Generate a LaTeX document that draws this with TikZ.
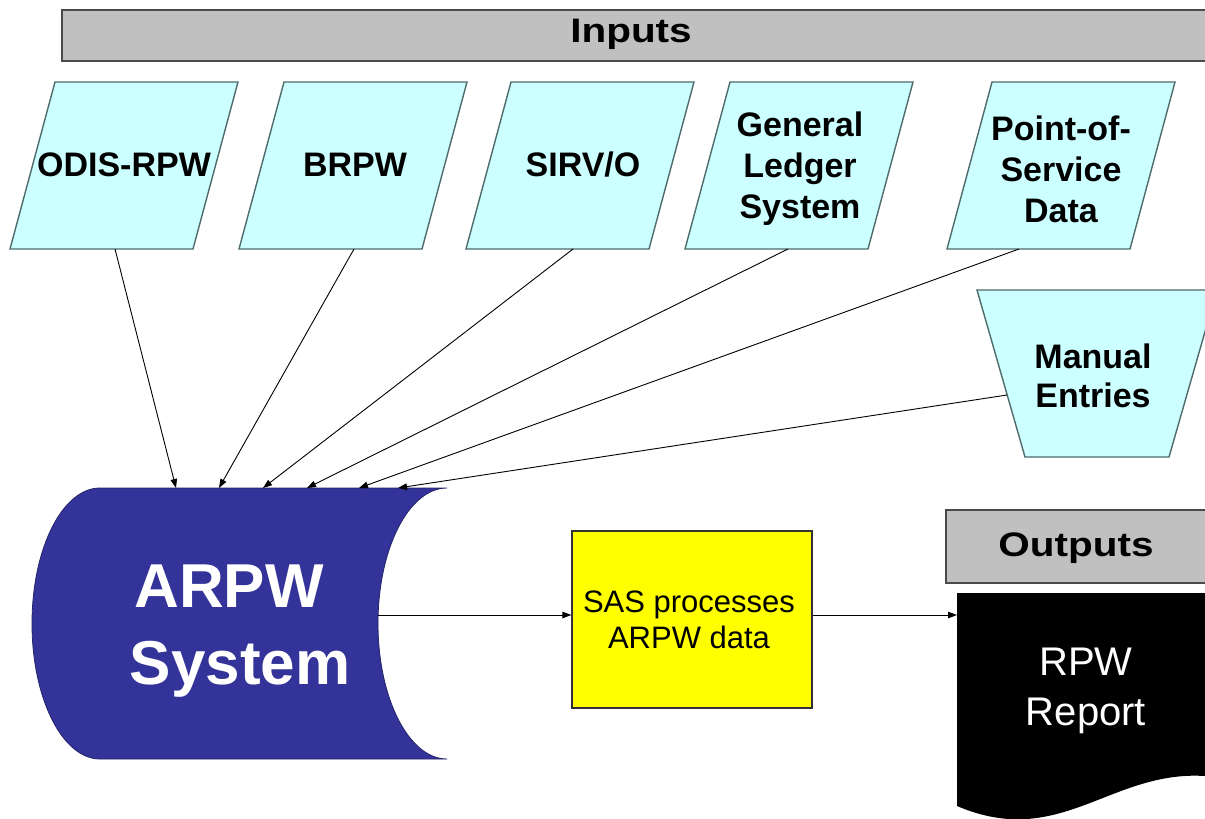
\documentclass[tikz,border=0pt]{standalone}
\usepackage{fontspec}
\setmainfont{Liberation Sans}
\newfontfamily\hdrfont[FakeStretch=1.19]{Liberation Sans}
\usetikzlibrary{arrows.meta}

\definecolor{infill}{HTML}{CCFFFF}
\definecolor{inedge}{HTML}{4F6B6B}
\definecolor{hdrfill}{HTML}{C0C0C0}
\definecolor{hdredge}{HTML}{4A4A4A}
\definecolor{sysfill}{HTML}{333399}
\definecolor{sasfill}{HTML}{FFFF00}

\tikzset{
  inframe/.style={fill=infill, draw=inedge, line width=1.4pt, line join=miter},
  hdrbar/.style={fill=hdrfill, draw=hdredge, line width=1.8pt},
  hdrlabel/.style={font=\hdrfont\bfseries\fontsize{34}{40}\selectfont, text=black, inner sep=0pt},
  inlabel/.style={font=\bfseries\fontsize{34}{41}\selectfont, align=center, inner sep=0pt},
  conn/.style={draw=black, line width=0.9pt, -{Triangle[length=9pt,width=6.5pt]}},
}

\newcommand\inputshape[1]{%
  \draw[inframe] (#1-69,82) -- (#1+114,82) -- (#1+69,249) -- (#1-114,249) -- cycle;}

\begin{document}
\begin{tikzpicture}[x=1pt,y=-1pt]
\useasboundingbox (0,0) rectangle (1205,819);
\clip (0,0) rectangle (1205,819);
\fill[white] (0,0) rectangle (1205,819);

% header bars
\draw[hdrbar] (62,10) rectangle (1220,61);
\node[hdrlabel] (inputs) at (631,34.5) {Inputs};
\draw[hdrbar] (946,510) rectangle (1220,583);
\node[hdrlabel] (outputs) at (1076,548.5) {Outputs};

% input sources
\inputshape{124}
\inputshape{353}
\inputshape{580}
\inputshape{799}
\inputshape{1061}
\node[inlabel] (odis) at (124,165) {ODIS-RPW};
\node[inlabel] (brpw) at (355,165) {BRPW};
\node[inlabel] (sirv) at (583,165) {SIRV/O};
\node[inlabel] (gl) at (800,169) {General\\Ledger\\System};
\node[inlabel] (pos) at (1061,169) {Point-of-\\Service\\Data};

% manual entries
\draw[inframe] (977,290) -- (1217,290) -- (1169,457) -- (1025,457) -- cycle;
\node[inlabel, font=\bfseries\fontsize{34}{39}\selectfont] (manual) at (1093,376) {Manual\\Entries};

% ARPW stored-data shape
\draw[fill=sysfill, draw=sysfill!70!black, line width=0.8pt]
  (100,488) -- (447,488)
  .. controls (408.9,488) and (378,548.7) .. (378,623.5)
  .. controls (378,698.3) and (408.9,759) .. (447,759)
  -- (100,759)
  .. controls (62.4,759) and (32,698.3) .. (32,623.5)
  .. controls (32,548.7) and (62.4,488) .. cycle;
\node[font=\bfseries\fontsize{62}{77}\selectfont, text=white, align=center, inner sep=0pt]
  (arpw) at (240,631) {ARPW\rule{22pt}{0pt}\\System};

% SAS processing box
\node[draw=black!80, line width=1.2pt, fill=sasfill, minimum width=240pt, minimum height=177pt, inner sep=0pt]
  (sasbox) at (692,619.5) {};
\node[font=\fontsize{31}{36}\selectfont, align=center, inner sep=0pt]
  (sas) at (689,619.5) {SAS processes\\ARPW data};

% RPW report document shape
\fill[black] (957,593) -- (1220,593) -- (1220,776) -- (1205,776)
  .. controls (1110,770) and (1060,850) .. (957,806) -- cycle;
\node[font=\fontsize{40}{50}\selectfont, text=white, align=center, inner sep=0pt]
  (rpw) at (1086,691) {RPW\\Report};

% connector end points
\coordinate (odis-out) at (115,249);
\coordinate (brpw-out) at (354,249);
\coordinate (sirv-out) at (573,249);
\coordinate (gl-out) at (788,249);
\coordinate (pos-out) at (1019,249);
\coordinate (man-out) at (1007,395);
\coordinate (arpw-in1) at (176,488);
\coordinate (arpw-in2) at (219,488);
\coordinate (arpw-in3) at (263,488);
\coordinate (arpw-in4) at (307,488);
\coordinate (arpw-in5) at (359,488);
\coordinate (arpw-in6) at (398,488);
\coordinate (arpw-out) at (378,615);
\coordinate (rpw-in) at (957,615);

% data flows
\draw[conn] (odis-out) -- (arpw-in1);
\draw[conn] (brpw-out) -- (arpw-in2);
\draw[conn] (sirv-out) -- (arpw-in3);
\draw[conn] (gl-out) -- (arpw-in4);
\draw[conn] (pos-out) -- (arpw-in5);
\draw[conn] (man-out) -- (arpw-in6);
\draw[conn] (arpw-out) -- (arpw-out -| sasbox.west);
\draw[conn] (rpw-in -| sasbox.east) -- (rpw-in);
\end{tikzpicture}
\end{document}
